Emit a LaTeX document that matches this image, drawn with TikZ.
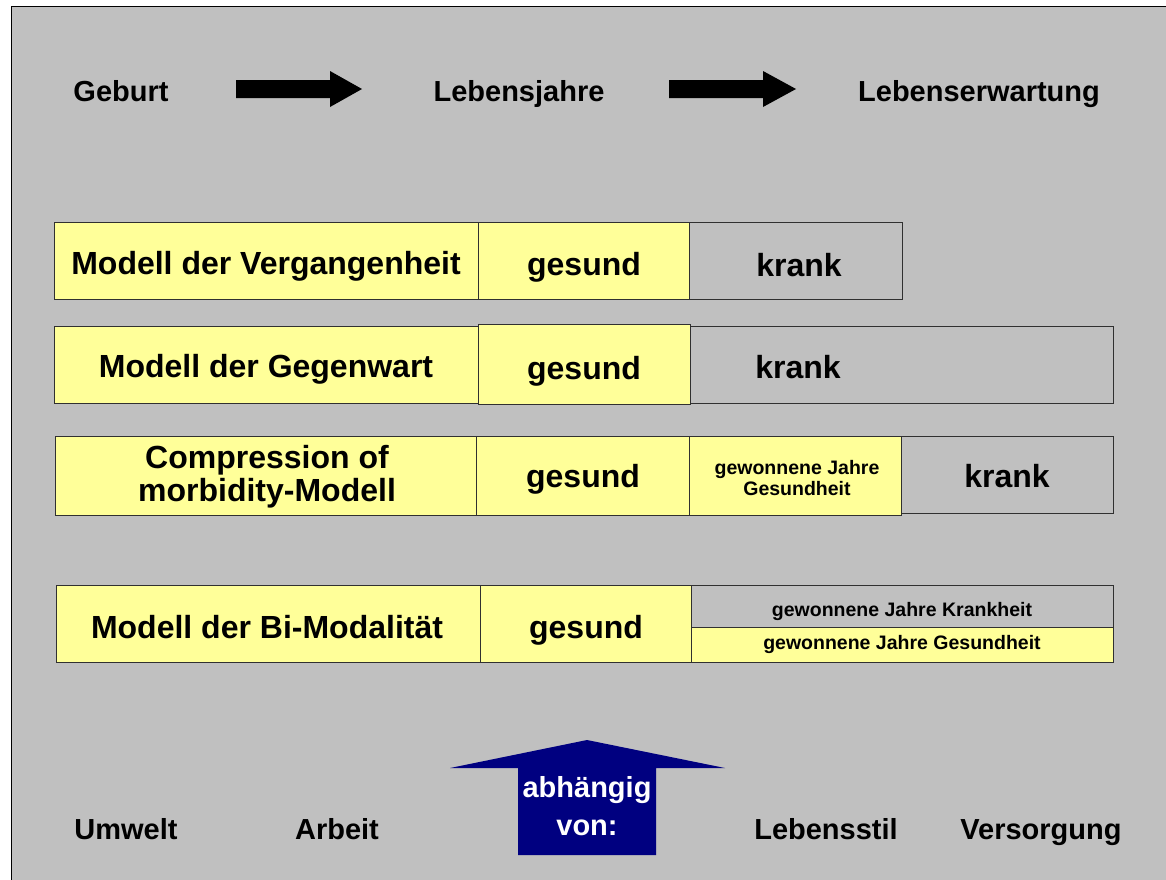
\documentclass[tikz,border=0pt]{standalone}
\usepackage{fontspec}
\setmainfont{Liberation Sans}
\definecolor{bggrey}{HTML}{C0C0C0}
\definecolor{paleyellow}{HTML}{FFFF99}
\definecolor{navyblue}{HTML}{000080}
\definecolor{edgegrey}{HTML}{303030}
\begin{document}
\begin{tikzpicture}[x=1pt,y=-1pt,
  toplabel/.style={font=\fontsize{29}{33}\selectfont\bfseries, inner sep=0pt, anchor=base},
  cell/.style={draw=edgegrey, line width=1pt, inner sep=0pt},
  ycell/.style={cell, fill=paleyellow},
  gcell/.style={cell, fill=bggrey},
  smalltxt/.style={font=\fontsize{19.5}{21}\selectfont\bfseries, inner sep=0pt, anchor=base},
  bigtxt/.style={font=\fontsize{32}{33}\selectfont\bfseries, inner sep=0pt, anchor=base},
  blackarrow/.style={fill=black},
  bluearrow/.style={fill=navyblue}
]
\clip (0,0) rectangle (1166,879);
\fill[white] (0,0) rectangle (1166,879);
\draw[fill=bggrey, line width=1.5pt] (11.5,6.5) rectangle (1180,900);

% top row
\node[toplabel] (geburt) at (121,101.5) {Geburt};
\node[toplabel] (jahre) at (519,101.5) {Lebensjahre};
\node[toplabel] (erw) at (979,101.5) {Lebenserwartung};
\fill[blackarrow] (236,80) -- (330,80) -- (330,71) -- (362,89) -- (330,107) -- (330,98) -- (236,98) -- cycle;
\fill[blackarrow] (669,80) -- (763,80) -- (763,71) -- (796,89) -- (763,107) -- (763,98) -- (669,98) -- cycle;

% row 1
\node[ycell, minimum width=424, minimum height=77] (r1a) at (266,260.5) {};
\node[ycell, minimum width=211, minimum height=77] (r1b) at (583.5,260.5) {};
\node[gcell, minimum width=213, minimum height=77] (r1c) at (795.5,260.5) {};
\node[bigtxt] (r1at) at (266,274) {Modell der Vergangenheit};
\node[bigtxt] (r1bt) at (584,275) {gesund};
\node[bigtxt] (r1ct) at (799,276) {krank};

% row 2
\node[ycell, minimum width=424, minimum height=77] (r2a) at (266,364.5) {};
\node[gcell, minimum width=423, minimum height=77] (r2c) at (901.5,364.5) {};
\node[ycell, minimum width=212, minimum height=80] (r2b) at (584,364) {};
\node[bigtxt] (r2at) at (266,377.5) {Modell der Gegenwart};
\node[bigtxt] (r2bt) at (584,379) {gesund};
\node[bigtxt] (r2ct) at (798,378) {krank};

% row 3
\node[ycell, minimum width=421, minimum height=79] (r3a) at (265.5,475.5) {};
\node[ycell, minimum width=213, minimum height=79] (r3b) at (582.5,475.5) {};
\node[gcell, minimum width=212, minimum height=77] (r3d) at (1007,474.5) {};
\node[ycell, minimum width=212, minimum height=79] (r3c) at (795,475.5) {};
\node[bigtxt] (r3at1) at (267,468.5) {Compression of};
\node[bigtxt] (r3at2) at (267,501) {morbidity-Modell};
\node[bigtxt] (r3bt) at (583,487.5) {gesund};
\node[bigtxt] (r3dt) at (1007,487.5) {krank};
\node[smalltxt] (r3ct1) at (797,474) {gewonnene Jahre};
\node[smalltxt] (r3ct2) at (797,495) {Gesundheit};

% row 4
\node[ycell, minimum width=424, minimum height=77] (r4a) at (268,623.5) {};
\node[ycell, minimum width=211, minimum height=77] (r4b) at (585.5,623.5) {};
\node[gcell, minimum width=422, minimum height=42] (r4c) at (902,606) {};
\node[ycell, minimum width=422, minimum height=35] (r4d) at (902,644.5) {};
\node[bigtxt] (r4at) at (267,638) {Modell der Bi-Modalit\"at};
\node[bigtxt] (r4bt) at (586,638) {gesund};
\node[smalltxt] (r4ct) at (902,616.5) {gewonnene Jahre Krankheit};
\node[smalltxt] (r4dt) at (902,649.5) {gewonnene Jahre Gesundheit};

% bottom row
\node[toplabel] (umwelt) at (126,839) {Umwelt};
\node[toplabel] (arbeit) at (337,839) {Arbeit};
\node[toplabel] (stil) at (826,839) {Lebensstil};
\node[toplabel] (vers) at (1041,839) {Versorgung};
\fill[bluearrow] (518,855) -- (518,768) -- (450,768) -- (587,740) -- (725,768) -- (656,768) -- (656,855) -- cycle;
\node[toplabel, text=white] (abh1) at (587,797.5) {abh\"angig};
\node[toplabel, text=white] (abh2) at (587,835) {von:};
\end{tikzpicture}
\end{document}
